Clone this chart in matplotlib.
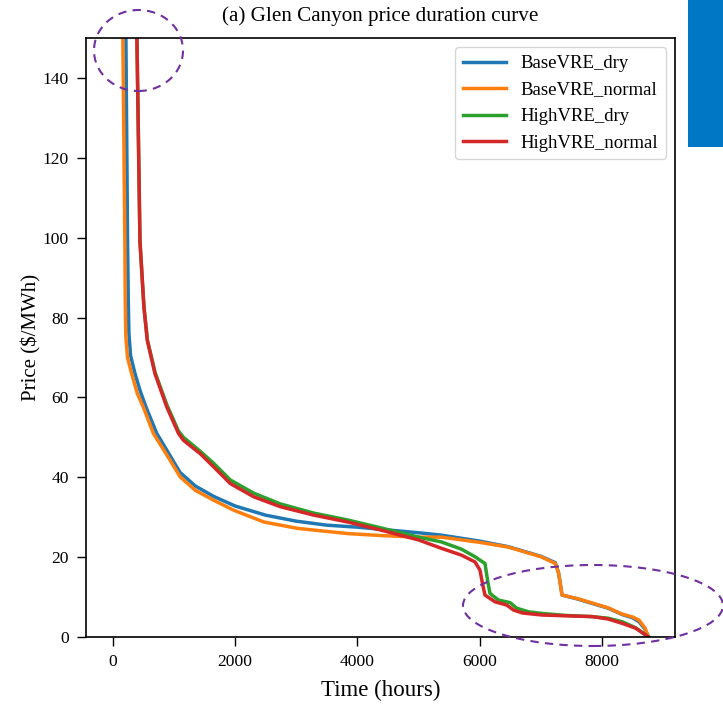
"""Glen Canyon price duration curve (panel a)."""
import matplotlib
matplotlib.use("Agg")
import matplotlib.pyplot as plt
from matplotlib.patches import Ellipse, Rectangle

plt.rcParams["font.family"] = ["Liberation Serif", "DejaVu Serif"]

TITLE = "(a) Glen Canyon price duration curve"
XLABEL = "Time (hours)"
YLABEL = "Price ($/MWh)"
SERIES = ["BaseVRE_dry", "BaseVRE_normal", "HighVRE_dry", "HighVRE_normal"]

# hours sorted by price
hours_base_dry = [0, 200, 214, 241, 252, 263, 290, 362, 450, 542, 718, 940,
                  1100, 1350, 1650, 2000, 2500, 3000, 3500, 4000, 4500, 5000,
                  5374, 6000, 6470, 7000, 7236, 7290, 7346, 7600, 7839, 8100,
                  8332, 8500, 8606, 8700, 8760]
price_base_dry = [800, 170, 150, 99, 85, 76, 70.5, 66, 61.5, 57.6, 51, 45.3,
                  41.2, 37.8, 35.2, 32.8, 30.5, 29, 28, 27.5, 26.8, 26.1,
                  25.5, 24, 22.6, 20.2, 18.6, 16, 10.5, 9.5, 8.4, 7.2,
                  5.6, 4.8, 3.8, 2.0, 0]

hours_base_normal = [0, 150, 164, 197, 203, 212, 240, 307, 400, 498, 663, 937,
                     1101, 1348, 1649, 1977, 2470, 3018, 3840, 4388, 5000,
                     5374, 6000, 6470, 7000, 7236, 7290, 7346, 7600, 7839,
                     8100, 8332, 8500, 8606, 8700, 8760]
price_base_normal = [800, 170, 150, 99, 85, 75.5, 70, 66, 61, 57.6, 51,
                     44.25, 40.1, 36.75, 34.25, 31.75, 28.8, 27.2, 25.9, 25.4,
                     25.0, 25.0, 23.7, 22.5, 20.1, 18.4, 16, 10.5, 9.6, 8.5,
                     7.3, 5.7, 5.0, 4.2, 2.3, 0]

hours_high_dry = [0, 360, 394, 444, 509, 564, 690, 882, 1073, 1155, 1430, 1649,
                  1923, 2306, 2744, 3292, 3840, 4388, 5000, 5374, 5700, 5922,
                  6086, 6130, 6168, 6305, 6496, 6606, 6800, 7017, 7400, 7839,
                  8100, 8332, 8550, 8760]
price_high_dry = [800, 200, 150, 99, 82.6, 74.5, 66.3, 58.2, 51.6, 50, 46.5,
                  43.5, 39.3, 36, 33.3, 31, 29.3, 27.3, 25, 23.8, 22, 20.1,
                  18.4, 14, 10.9, 9.25, 8.6, 7.2, 6.3, 5.9, 5.4, 5.1,
                  4.7, 3.8, 2.3, 0]

hours_high_normal = [0, 360, 394, 444, 509, 564, 690, 882, 1073, 1155, 1430,
                     1649, 1923, 2306, 2744, 3292, 3840, 4388, 5000, 5374,
                     5700, 5922, 6004, 6050, 6086, 6250, 6442, 6552, 6700,
                     7017, 7400, 7839, 8100, 8332, 8550, 8760]
price_high_normal = [800, 200, 150, 99, 82.6, 74.25, 65.9, 57.6, 51, 49.25,
                     45.9, 42.6, 38.4, 35.1, 32.6, 30.5, 28.8, 26.75, 24.3,
                     22.2, 20.5, 18.8, 16.75, 13, 10.5, 8.8, 8.0, 6.75, 6.0,
                     5.5, 5.3, 5.1, 4.5, 3.4, 2.2, 0]

fig = plt.figure(figsize=(7.23, 7.05), dpi=100)
ax = fig.add_axes([0.119, 0.0965, 0.815, 0.8495])

curves = [(hours_base_dry, price_base_dry),
          (hours_base_normal, price_base_normal),
          (hours_high_dry, price_high_dry),
          (hours_high_normal, price_high_normal)]
for (h, p), name in zip(curves, SERIES):
    ax.plot(h, p, lw=2.5, label=name)

ax.set_ylim(0, 150)
ax.set_title(TITLE, fontsize=15.2, pad=12)
ax.set_xlabel(XLABEL, fontsize=16.5, labelpad=7)
ax.set_ylabel(YLABEL, fontsize=15, labelpad=1)
ax.tick_params(labelsize=12.6, length=6.5, pad=6, width=1.0)
for s in ax.spines.values():
    s.set_linewidth(1.2)
ax.legend(loc="upper right", fontsize=13.5, handlelength=2.3)

# dashed highlight ellipses drawn in figure coords (they spill off the axes)
W, H = 723.0, 705.0
ring = dict(fill=False, ec="#7030A0", lw=1.5, ls=(0, (4, 3)),
            transform=fig.transFigure, clip_on=False)
fig.add_artist(Ellipse((138.5 / W, 1 - 50.5 / H), 89 / W, 81 / H, **ring))
fig.add_artist(Ellipse((593 / W, 1 - 605.5 / H), 260 / W, 81 / H, **ring))

# slide-template blue block, top right
fig.add_artist(Rectangle((688 / W, 1 - 147 / H), 35 / W, 147 / H,
                         transform=fig.transFigure, color="#0077C4", lw=0))

fig.savefig("out.png", dpi=100)
